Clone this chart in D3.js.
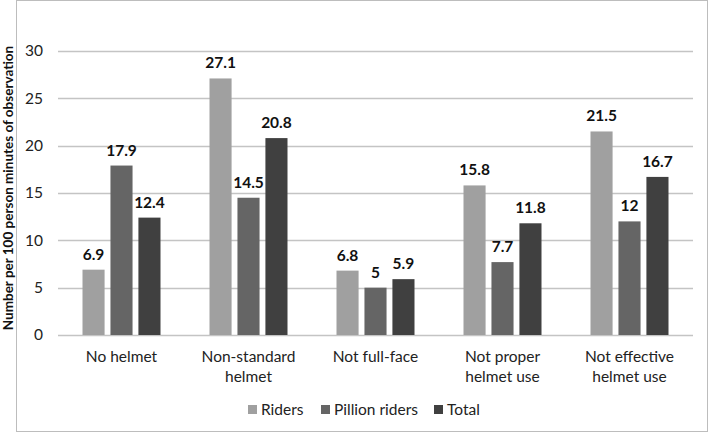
<!DOCTYPE html>
<html>
<head>
<meta charset="utf-8">
<script src="https://cdn.jsdelivr.net/npm/d3@7"></script>
<style>
  body { margin: 0; background: #fff; }
  text { font-family: Lato, "Open Sans", sans-serif; }
</style>
</head>
<body>
<svg id="canvas" width="709" height="433"></svg>
<script>
// chart values
var categories = [["No helmet"], ["Non-standard", "helmet"], ["Not full-face"], ["Not proper", "helmet use"], ["Not effective", "helmet use"]]
var seriesNames = ["Riders", "Pillion riders", "Total"]
var riders = [6.9, 27.1, 6.8, 15.8, 21.5]
var pillion = [17.9, 14.5, 5, 7.7, 12]
var total = [12.4, 20.8, 5.9, 11.8, 16.7]
var yTicks = [0, 5, 10, 15, 20, 25, 30]
var colors = ["#a0a0a0", "#656565", "#404040"]

var svg = d3.select("#canvas")
var w = 709, h = 433

// outer frame
svg.append("rect")
  .attr("x", 16.5).attr("y", 0.5)
  .attr("width", w - 18).attr("height", h - 2)
  .attr("fill", "#fff")
  .attr("stroke", "#bdbdbd")

var plotL = 58, plotR = 693, plotT = 51, plotB = 335

var x0 = d3.scaleBand()
  .domain(d3.range(categories.length))
  .range([plotL, plotR])

var x1 = d3.scaleBand()
  .domain(d3.range(seriesNames.length))
  .range([0, 78])
  .paddingInner(0.21)

var y = d3.scaleLinear().domain([0, 30]).range([plotB, plotT])

//gridlines
svg.append("g").selectAll("line")
  .data(yTicks)
  .join("line")
  .attr("x1", plotL).attr("x2", plotR)
  .attr("y1", d => Math.round(y(d)) + 0.5)
  .attr("y2", d => Math.round(y(d)) + 0.5)
  .attr("stroke", "#c4c4c4")
  .attr("stroke-width", 1.5)

// y tick labels
svg.append("g").selectAll("text")
  .data(yTicks)
  .join("text")
  .attr("x", 43)
  .attr("y", d => y(d))
  .attr("dy", "0.35em")
  .attr("text-anchor", "end")
  .style("font-size", "15.5px")
  .style("fill", "#222")
  .text(d => d)

// y axis title
svg.append("text")
  .attr("transform", "translate(13," + 188 + ") rotate(-90)")
  .attr("text-anchor", "middle")
  .style("font-size", "13.5px")
  .style("font-weight", "bold")
  .style("fill", "#111")
  .text("Number per 100 person minutes of observation")

var series = [riders, pillion, total]

var groups = svg.append("g").selectAll("g")
  .data(categories)
  .join("g")
  .attr("transform", (d, i) => "translate(" + (x0(i) + (x0.bandwidth() - 78) / 2) + ",0)")

groups.selectAll("rect")
  .data((d, i) => series.map((s, k) => ({k: k, v: s[i]})))
  .join("rect")
  .attr("x", d => x1(d.k))
  .attr("width", x1.bandwidth())
  .attr("y", d => y(d.v))
  .attr("height", d => plotB - y(d.v))
  .attr("fill", d => colors[d.k])

groups.selectAll("text.lbl")
  .data((d, i) => series.map((s, k) => ({k: k, v: s[i]})))
  .join("text")
  .attr("class", "lbl")
  .attr("x", d => x1(d.k) + x1.bandwidth() / 2)
  .attr("y", d => y(d.v) - 10)
  .attr("text-anchor", "middle")
  .style("font-size", "15.5px")
  .style("font-weight", "bold")
  .style("fill", "#111")
  .text(d => d.v)

// category labels
svg.append("g").selectAll("text")
  .data(categories)
  .join("text")
  .attr("x", (d, i) => x0(i) + x0.bandwidth() / 2)
  .attr("y", 362)
  .attr("text-anchor", "middle")
  .style("font-size", "15.5px")
  .style("fill", "#222")
  .each(function (d) {
    var t = d3.select(this)
    d.forEach((line, j) => {
      t.append("tspan")
        .attr("x", t.attr("x"))
        .attr("dy", j == 0 ? 0 : 20)
        .text(line)
    })
  })

// legend
var legendX = [248, 321, 434]
var legend = svg.append("g").selectAll("g")
  .data(seriesNames)
  .join("g")
  .attr("transform", (d, i) => "translate(" + legendX[i] + ",409)")

legend.append("rect")
  .attr("width", 9).attr("height", 9)
  .attr("y", -4)
  .attr("fill", (d, i) => colors[i])

legend.append("text")
  .attr("x", 13)
  .attr("y", 1)
  .attr("dy", "0.35em")
  .style("font-size", "15.5px")
  .style("fill", "#222")
  .text(d => d)
</script>
</body>
</html>
